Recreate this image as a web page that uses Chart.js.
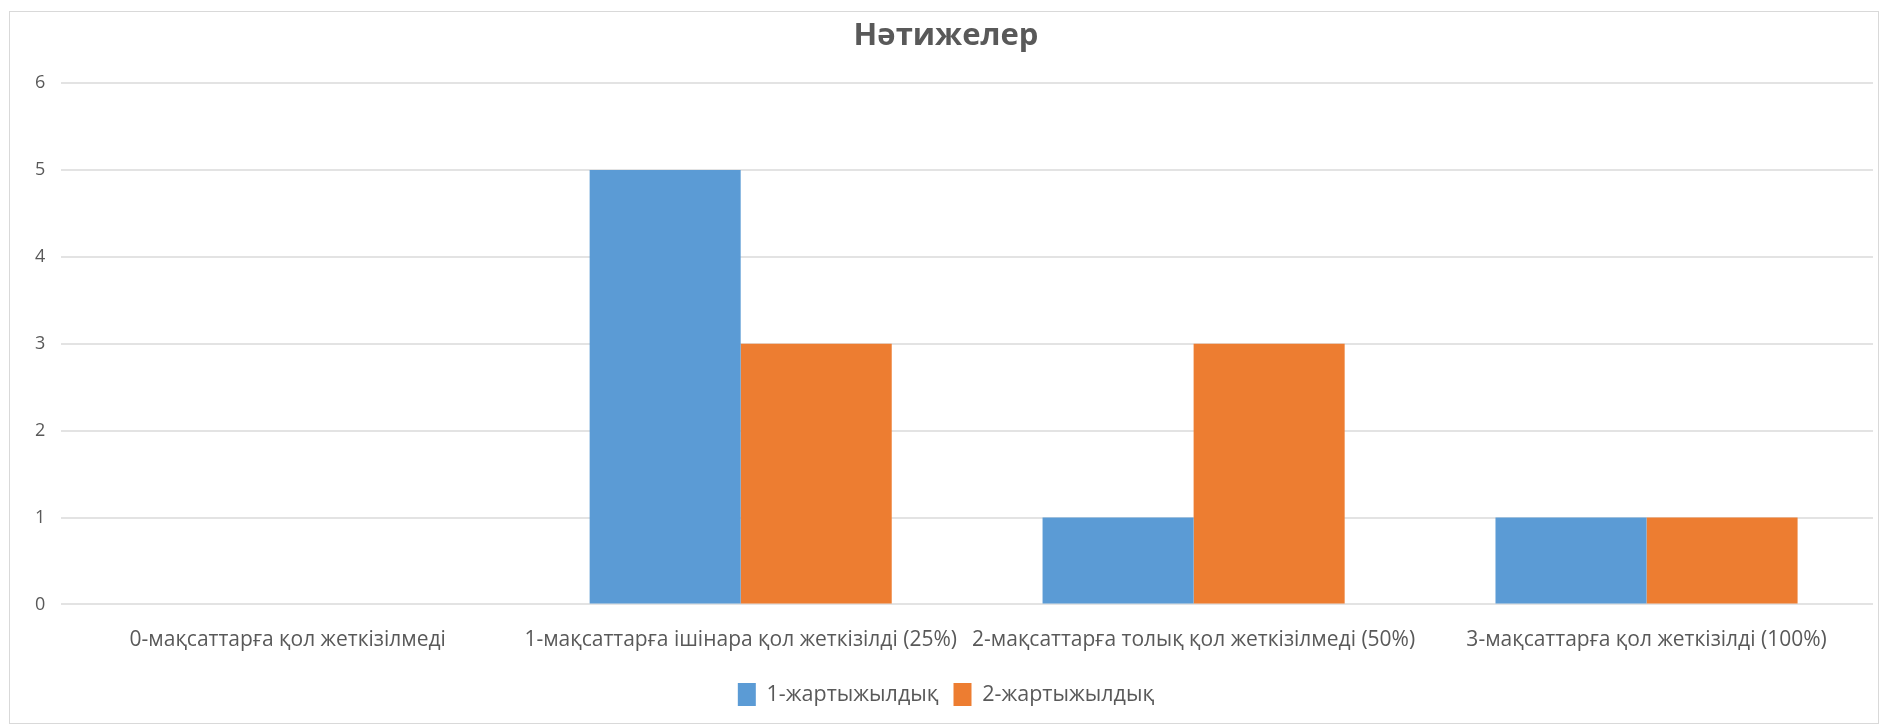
<!DOCTYPE html>
<html>
<head>
<meta charset="utf-8">
<script src="https://cdn.jsdelivr.net/npm/chart.js@4"></script>
<style>
  body { margin: 0; background: #fff; }
  #wrap {
    position: absolute; left: 9px; top: 11px;
    width: 1868px; height: 711px;
    border: 1px solid #d9d9d9; background: #fff;
  }
</style>
</head>
<body>
<div id="wrap"><canvas id="chart"></canvas></div>
<script>
const categories = [
  "0-мақсаттарға қол жеткізілмеді",
  "1-мақсаттарға ішінара қол жеткізілді (25%)",
  "2-мақсаттарға толық қол жеткізілмеді (50%)",
  "3-мақсаттарға қол жеткізілді (100%)",
];
const seriesNames = ["1-жартыжылдық", "2-жартыжылдық"];
const half1 = [0, 5, 1, 1];
const half2 = [0, 3, 3, 1];
const yTicks = [0, 1, 2, 3, 4, 5, 6];

Chart.defaults.font.family = "'Open Sans', 'Noto Sans', sans-serif";
Chart.defaults.color = "#595959";

const ctx = document.getElementById("chart").getContext("2d");
new Chart(ctx, {
  type: "bar",
  data: {
    labels: categories,
    datasets: [
      { label: seriesNames[0], data: half1, backgroundColor: "#5b9bd5" },
      { label: seriesNames[1], data: half2, backgroundColor: "#ed7d31" },
    ],
  },
  options: {
    responsive: true,
    maintainAspectRatio: false,
    animation: false,
    devicePixelRatio: 1,
    layout: { padding: { left: 9, right: 5, top: 0, bottom: 7 } },
    datasets: { bar: { barPercentage: 1, categoryPercentage: 0.667 } },
    plugins: {
      title: {
        display: true,
        text: "Нәтижелер",
        color: "#595959",
        font: { size: 31, weight: "bold" },
        padding: { top: 6, bottom: 28 },
      },
      legend: {
        position: "bottom",
        labels: {
          boxWidth: 18,
          boxHeight: 23,
          font: { size: 21.5 },
          padding: 15,
        },
      },
      tooltip: { enabled: false },
    },
    scales: {
      x: {
        grid: { display: false },
        border: { display: false },
        ticks: { font: { size: 21, lineHeight: 1.6 }, padding: 11, maxRotation: 0, autoSkip: false },
      },
      y: {
        min: 0,
        max: 6,
        afterBuildTicks: (axis) => { axis.ticks = yTicks.map((v) => ({ value: v })); },
        grid: { color: "#e3e3e3", lineWidth: 2, drawTicks: false },
        border: { display: false },
        ticks: { font: { size: 18 }, padding: 16 },
      },
    },
  },
});
</script>
</body>
</html>
